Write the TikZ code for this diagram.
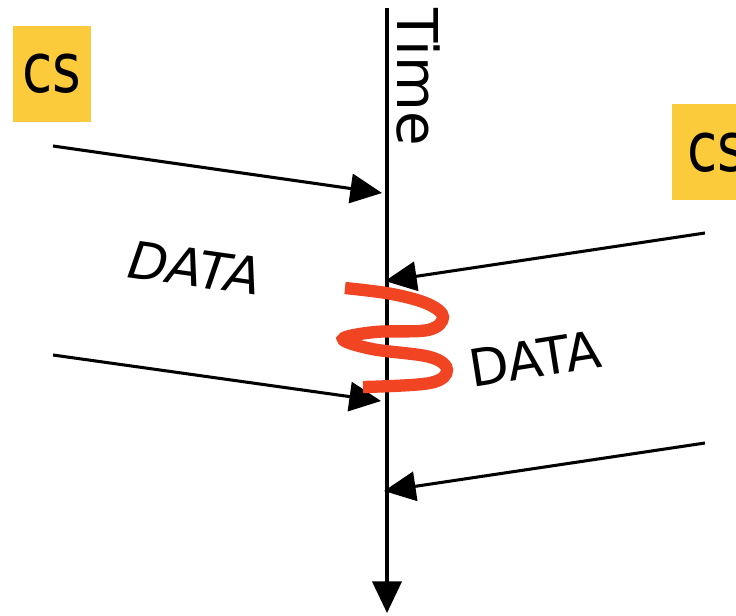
\documentclass[tikz,border=0pt]{standalone}
\usepackage{fontspec}
\setmainfont{DejaVu Sans}
\usetikzlibrary{arrows.meta}

\definecolor{csyellow}{HTML}{FBCB3C}
\definecolor{squigred}{HTML}{F04423}

\begin{document}
\begin{tikzpicture}[x=0.03cm, y=-0.03cm,
    msg/.style={
        line width=2.6pt,
        -{Triangle[length=27pt,width=25pt]}
    },
    csbox/.style={
        fill=csyellow,
        minimum width=78*0.03cm,
        minimum height=96*0.03cm,
        inner sep=0pt,
        font=\fontsize{47}{50}\selectfont
    },
    datalabel/.style={
        font=\fontsize{44}{48}\selectfont,
        inner sep=0pt
    },
    squiggle/.style={
        draw=squigred,
        line width=10.5pt,
        line cap=butt
    }
]

\useasboundingbox (0,0) rectangle (736,615);
\clip (0,0) rectangle (736,615);

%%%%%%%%%%%%%%%%%%%%%%%%
% Time axis
%%%%%%%%%%%%%%%%%%%%%%%%

\coordinate (ttop) at (387,8);
\coordinate (tbot) at (387,613);
\draw[msg] (ttop) -- (tbot);
\node[font=\fontsize{48}{52}\selectfont, rotate=-90, anchor=north west, inner sep=0pt]
    (time) at (440,8) {Time};

%%%%%%%%%%%%%%%%%%%%%%%%
% CS markers
%%%%%%%%%%%%%%%%%%%%%%%%

\node[csbox] (csleft) at (52,74) {\scalebox{1}[1.25]{cs}};
\node[csbox, anchor=north west] (csright) at (672,104) {\hspace*{9pt}\scalebox{1}[1.25]{cs}};

%%%%%%%%%%%%%%%%%%%%%%%%
% Left side messages
%%%%%%%%%%%%%%%%%%%%%%%%

\coordinate (l1) at (53,146);
\coordinate (l1end) at (382,193);
\draw[msg] (l1) -- (l1end);

\node[datalabel, rotate=-8] (dataleft) at (195,268) {\itshape DATA};

\coordinate (l2) at (53,355);
\coordinate (l2end) at (381,401);
\draw[msg] (l2) -- (l2end);

%%%%%%%%%%%%%%%%%%%%%%%%
% Right side messages
%%%%%%%%%%%%%%%%%%%%%%%%

\coordinate (r1) at (705,233);
\coordinate (r1end) at (385,281);
\draw[msg] (r1) -- (r1end);

\node[datalabel, rotate=9] (dataright) at (535,359) {DATA};

\coordinate (r2) at (705,443);
\coordinate (r2end) at (384,491);
\draw[msg] (r2) -- (r2end);

%%%%%%%%%%%%%%%%%%%%%%%%
% Collision squiggle
%%%%%%%%%%%%%%%%%%%%%%%%

\draw[squiggle] plot[smooth, tension=0.6] coordinates {
    (345,288) (392,294) (428,304) (443,317) (428,330) (375,332)
    (343,339) (372,349) (430,357) (447,370) (430,383) (363,387)};

\end{tikzpicture}
\end{document}
